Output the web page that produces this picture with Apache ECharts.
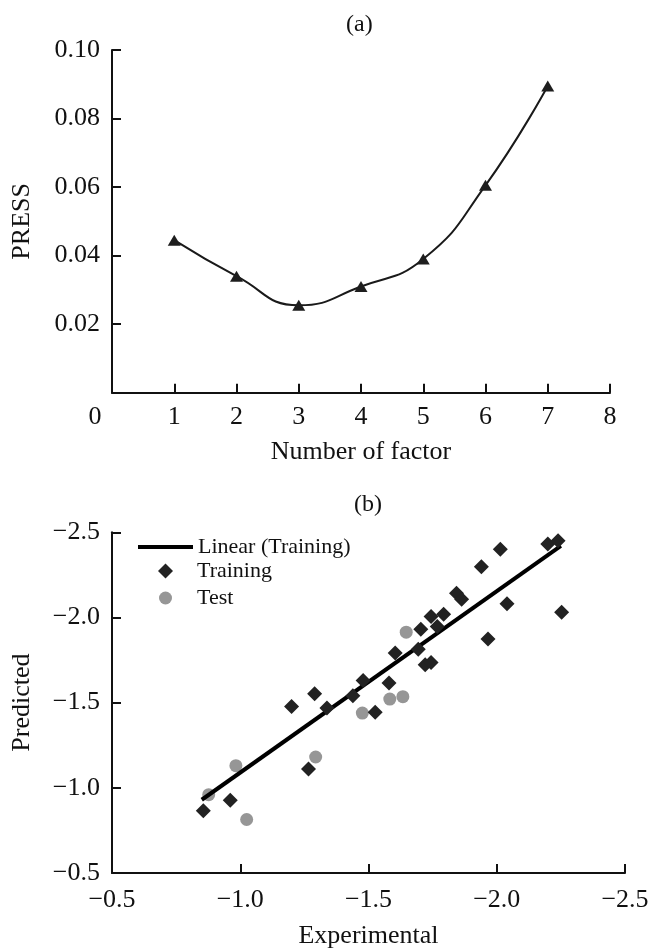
<!DOCTYPE html>
<html>
<head>
<meta charset="utf-8">
<script src="https://cdn.jsdelivr.net/npm/echarts@6/dist/echarts.min.js"></script>
<style>
html,body{margin:0;padding:0;background:#fff;}
#chart{width:653px;height:950px;}
</style>
</head>
<body>
<div id="chart"></div>
<script>
// ---- Panel (a): PRESS vs number of factors ----
const factors = [1, 2, 3, 4, 5, 6, 7];
const press = [0.0445, 0.034, 0.0255, 0.031, 0.039, 0.0605, 0.0895];

// ---- Panel (b): predicted vs experimental ----
const trainExp = [-0.856, -0.961, -1.200, -1.290, -1.338, -1.266, -1.439, -1.479, -1.526, -1.580,
                  -1.604, -1.694, -1.704, -1.721, -1.744, -1.744, -1.768, -1.793, -1.843, -1.863,
                  -1.940, -1.966, -2.014, -2.040, -2.199, -2.239, -2.253];
const trainPred = [-0.866, -0.927, -1.478, -1.552, -1.468, -1.111, -1.540, -1.630, -1.443, -1.615,
                   -1.791, -1.814, -1.931, -1.722, -1.736, -2.005, -1.947, -2.019, -2.142, -2.107,
                   -2.298, -1.873, -2.400, -2.080, -2.431, -2.451, -2.031];
const testExp = [-0.877, -0.983, -1.025, -1.294, -1.476, -1.583, -1.634, -1.647];
const testPred = [-0.960, -1.130, -0.814, -1.181, -1.439, -1.521, -1.535, -1.914];
const fitExp = [-0.85, -2.25];
const fitPred = [-0.93, -2.42];

const FONT = "'Liberation Serif', 'Times New Roman', serif";
const BLACK = '#111';
const zip = (a, b) => a.map((v, i) => [v, b[i]]);
const minus = s => s.replace('-', '\u2212');

const axisCommon = {
  axisLine: { show: true, onZero: false, lineStyle: { color: BLACK, width: 2 } },
  axisTick: { show: true, inside: true, length: 9, lineStyle: { color: BLACK, width: 2 } },
  splitLine: { show: false },
  nameTextStyle: { fontFamily: FONT, fontSize: 26, color: BLACK },
};
const labelCommon = { fontFamily: FONT, fontSize: 26, color: BLACK };

const chart = echarts.init(document.getElementById('chart'), null, { renderer: 'canvas' });
chart.setOption({
  animation: false,
  backgroundColor: '#fff',
  graphic: [
    { type: 'text', left: 360 - 14, top: 13, style: { text: '(a)', font: '24px ' + FONT, fill: BLACK } },
    { type: 'text', left: 368 - 14, top: 493, style: { text: '(b)', font: '24px ' + FONT, fill: BLACK } }
  ],
  grid: [
    { left: 112, top: 50, width: 498, height: 342.7, containLabel: false },
    { left: 112, top: 532.3, width: 513, height: 341.2, containLabel: false }
  ],
  xAxis: [
    Object.assign({}, axisCommon, {
      type: 'value', gridIndex: 0, min: 0, max: 8, interval: 1,
      name: 'Number of factor', nameLocation: 'middle', nameGap: 46,
      axisLabel: Object.assign({}, labelCommon, {
        margin: 11,
        formatter: v => v === 0 ? '{z|0}' : String(v),
        rich: { z: { fontFamily: FONT, fontSize: 26, color: BLACK, padding: [0, 34, 0, 0] } }
      })
    }),
    Object.assign({}, axisCommon, {
      type: 'value', gridIndex: 1, min: -2.5, max: -0.5, interval: 0.5, inverse: true,
      name: 'Experimental', nameLocation: 'middle', nameGap: 50,
      axisLabel: Object.assign({}, labelCommon, {
        margin: 14,
        formatter: v => minus(v.toFixed(1))
      })
    })
  ],
  yAxis: [
    Object.assign({}, axisCommon, {
      type: 'value', gridIndex: 0, min: 0, max: 0.1, interval: 0.02,
      name: 'PRESS', nameLocation: 'middle', nameGap: 77, nameRotate: 90,
      axisLabel: Object.assign({}, labelCommon, {
        margin: 12,
        formatter: v => v === 0 ? '' : v.toFixed(2)
      })
    }),
    Object.assign({}, axisCommon, {
      type: 'value', gridIndex: 1, min: -2.5, max: -0.5, interval: 0.5, inverse: true,
      name: 'Predicted', nameLocation: 'middle', nameGap: 77, nameRotate: 90,
      axisLabel: Object.assign({}, labelCommon, {
        margin: 12,
        formatter: v => minus(v.toFixed(1))
      })
    })
  ],
  legend: [
    {
      data: [{ name: 'Linear (Training)', icon: 'rect' }],
      left: 133, top: 531, itemWidth: 55, itemHeight: 4, orient: 'vertical',
      selectedMode: false,
      textStyle: { fontFamily: FONT, fontSize: 22, color: BLACK, padding: [0, 0, 0, 0] }
    },
    {
      data: [{ name: 'Training', icon: 'diamond' }],
      left: 153, top: 555, itemWidth: 15, itemHeight: 15, orient: 'vertical',
      selectedMode: false,
      textStyle: { fontFamily: FONT, fontSize: 22, color: BLACK, padding: [0, 0, 0, 19] }
    },
    {
      data: [{ name: 'Test', icon: 'circle' }],
      left: 154, top: 582, itemWidth: 13, itemHeight: 13, orient: 'vertical',
      selectedMode: false,
      textStyle: { fontFamily: FONT, fontSize: 22, color: BLACK, padding: [0, 0, 0, 20] }
    }
  ],
  series: [
    {
      type: 'line', xAxisIndex: 0, yAxisIndex: 0, name: 'PRESS',
      data: zip(factors, press), smooth: 0.5,
      lineStyle: { color: '#1a1a1a', width: 2 },
      symbol: 'triangle', symbolSize: [13, 11], showSymbol: true,
      itemStyle: { color: '#1e1e1e', opacity: 1 }
    },
    {
      type: 'scatter', xAxisIndex: 1, yAxisIndex: 1, name: 'Test',
      data: zip(testExp, testPred),
      symbol: 'circle', symbolSize: 13,
      itemStyle: { color: '#969696', opacity: 1 }, z: 2
    },
    {
      type: 'line', xAxisIndex: 1, yAxisIndex: 1, name: 'Linear (Training)',
      data: zip(fitExp, fitPred), showSymbol: false, symbol: 'none',
      lineStyle: { color: '#000', width: 4 },
      itemStyle: { color: '#000' }, z: 3
    },
    {
      type: 'scatter', xAxisIndex: 1, yAxisIndex: 1, name: 'Training',
      data: zip(trainExp, trainPred),
      symbol: 'diamond', symbolSize: 15,
      itemStyle: { color: '#222', opacity: 1 }, z: 4
    }
  ]
});
</script>
</body>
</html>
